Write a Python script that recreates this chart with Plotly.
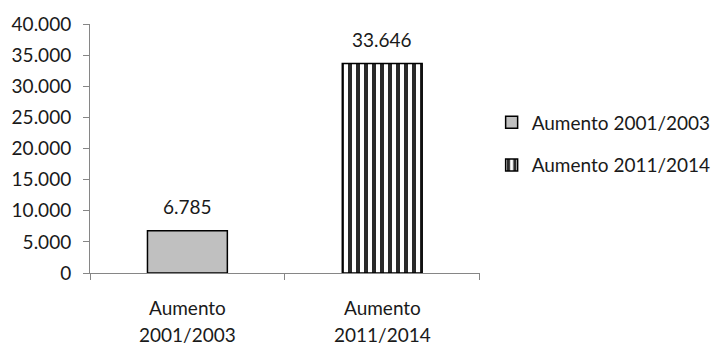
import plotly.graph_objects as go

# Data
categories = ["Aumento 2001/2003", "Aumento 2011/2014"]
values = [6785, 33646]
tick_values = [0, 5000, 10000, 15000, 20000, 25000, 30000, 35000, 40000]

FONT = "Lato"
SIZE = 19
TEXT = "#1a1a1a"
AXIS = "#868686"

fig = go.Figure()

fig.add_trace(go.Bar(
    x=[categories[0]], y=[values[0]], name=categories[0],
    width=0.41, legendgroup="a",
    marker=dict(color="#c0c0c0", line=dict(color="black", width=1.5)),
))
fig.add_trace(go.Bar(
    x=[categories[1]], y=[values[1]], name=categories[1],
    width=0.41, legendgroup="b",
    marker=dict(
        color="white", line=dict(color="black", width=1.5),
        pattern=dict(shape="|", fgcolor="#2a2a2a", bgcolor="white",
                     size=8, solidity=0.5, fillmode="replace"),
    ),
))

annotations = []
# value labels above the bars
for cat, val in zip(categories, values):
    annotations.append(dict(
        x=cat, y=val, xref="x", yref="y", yanchor="bottom",
        text=f"{val:,}".replace(",", "."), showarrow=False, yshift=11,
        font=dict(family=FONT, size=SIZE, color=TEXT),
    ))
# two-line category labels under the axis
for cat in categories:
    first, second = cat.split(" ", 1)
    annotations.append(dict(x=cat, y=0, xref="x", yref="paper", yanchor="middle",
                            text=first, showarrow=False, yshift=-34,
                            font=dict(family=FONT, size=SIZE, color=TEXT)))
    annotations.append(dict(x=cat, y=0, xref="x", yref="paper", yanchor="middle",
                            text=second, showarrow=False, yshift=-61,
                            font=dict(family=FONT, size=SIZE, color=TEXT)))

fig.update_layout(
    width=723, height=345,
    margin=dict(l=90, r=240, t=16, b=72),
    paper_bgcolor="white", plot_bgcolor="white",
    separators=",.",
    barmode="overlay",
    font=dict(family=FONT, size=SIZE, color=TEXT),
    showlegend=True,
    legend=dict(
        xref="container", yref="container",
        x=0.68, y=0.70, xanchor="left", yanchor="top",
        traceorder="grouped", tracegroupgap=15,
        font=dict(family=FONT, size=SIZE, color=TEXT),
        bgcolor="rgba(0,0,0,0)",
    ),
    annotations=annotations,
)

fig.update_xaxes(
    type="category", range=[-0.5, 1.5],
    showline=True, linecolor=AXIS, linewidth=1,
    ticks="outside", tickson="boundaries", ticklen=6, tickcolor=AXIS,
    showticklabels=False, showgrid=False, zeroline=False,
)
fig.update_yaxes(
    range=[0, 40000], tickvals=tick_values, tickformat=",d",
    showline=True, linecolor=AXIS, linewidth=1,
    ticks="outside", ticklen=6, tickcolor=AXIS, ticklabelstandoff=8,
    showgrid=False, zeroline=False,
    tickfont=dict(family=FONT, size=SIZE, color=TEXT),
)

fig.write_html("out.html")
